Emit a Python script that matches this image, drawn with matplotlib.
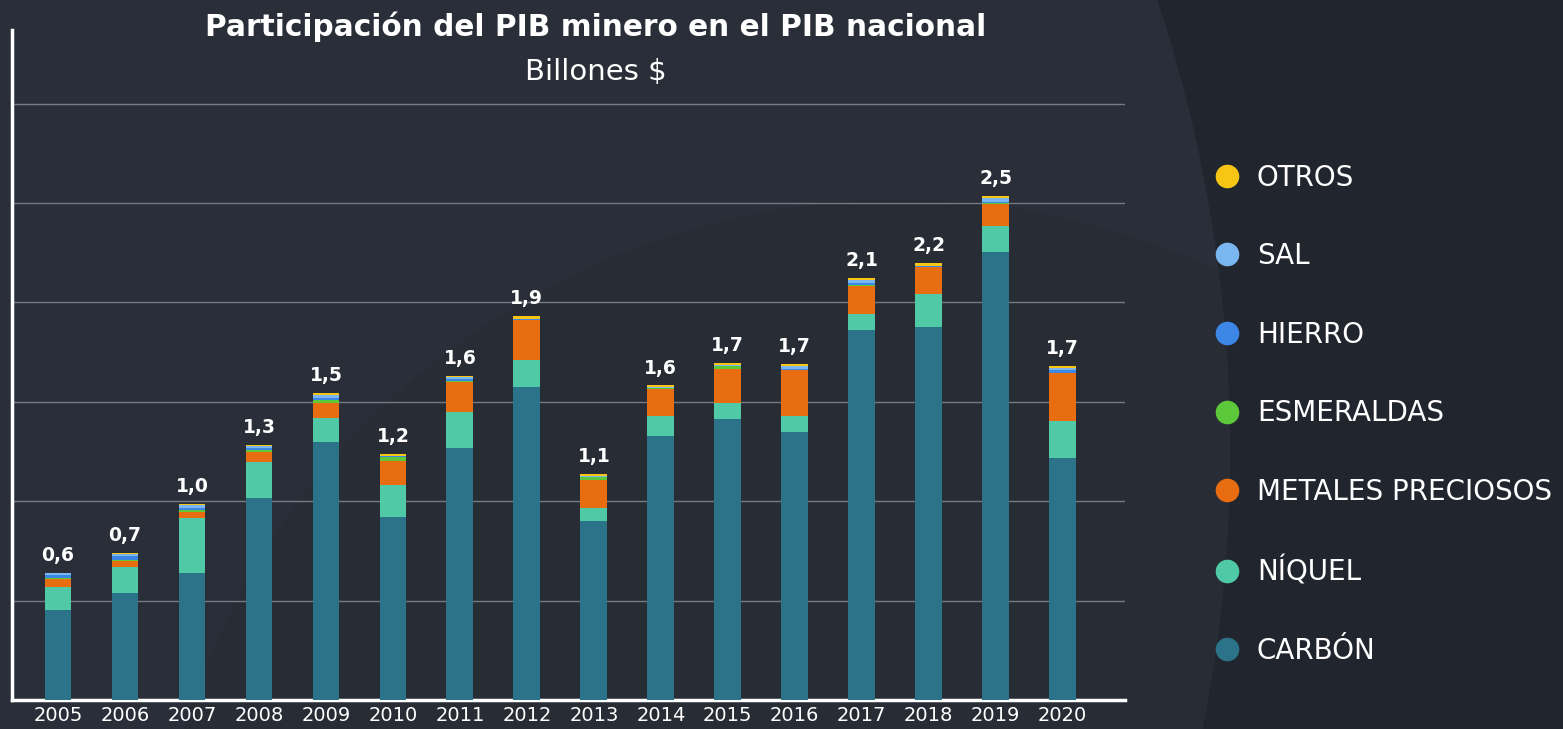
import matplotlib.pyplot as plt
from matplotlib.lines import Line2D
from matplotlib.patches import Ellipse

# Data (billones $)
years = ['2005', '2006', '2007', '2008', '2009', '2010', '2011', '2012',
         '2013', '2014', '2015', '2016', '2017', '2018', '2019', '2020']
carbon = [0.452, 0.540, 0.638, 1.015, 1.296, 0.920, 1.266, 1.573,
          0.900, 1.327, 1.412, 1.347, 1.859, 1.874, 2.251, 1.216]
niquel = [0.116, 0.130, 0.276, 0.181, 0.121, 0.161, 0.181, 0.136,
          0.065, 0.101, 0.080, 0.080, 0.085, 0.166, 0.134, 0.186]
metales = [0.040, 0.030, 0.030, 0.050, 0.075, 0.121, 0.151, 0.201,
           0.141, 0.136, 0.171, 0.231, 0.138, 0.136, 0.111, 0.241]
esmeraldas = [0.005, 0.005, 0.010, 0.010, 0.015, 0.020, 0.005, 0.003,
              0.015, 0.003, 0.015, 0.003, 0.005, 0.003, 0.003, 0.003]
hierro = [0.015, 0.020, 0.010, 0.010, 0.010, 0.003, 0.010, 0.002,
          0.002, 0.002, 0.003, 0.005, 0.010, 0.002, 0.005, 0.015]
sal = [0.010, 0.010, 0.015, 0.010, 0.015, 0.003, 0.010, 0.003,
       0.003, 0.003, 0.005, 0.015, 0.015, 0.003, 0.020, 0.008]
otros = [0.003, 0.003, 0.005, 0.005, 0.010, 0.010, 0.005, 0.012,
         0.010, 0.010, 0.010, 0.010, 0.012, 0.012, 0.012, 0.010]

names = ['CARBÓN', 'NÍQUEL', 'METALES PRECIOSOS', 'ESMERALDAS', 'HIERRO', 'SAL', 'OTROS']
series = [carbon, niquel, metales, esmeraldas, hierro, sal, otros]
colors = ['#2b7389', '#4fc9a6', '#e86c10', '#5cc83a', '#3c86e6', '#7ab6f0', '#f7c614']

bg = '#21252e'
fig = plt.figure(figsize=(15.63, 7.29), dpi=100, facecolor=bg)

# faint background arcs
bgax = fig.add_axes([0, 0, 1, 1], zorder=-5)
bgax.set_xlim(0, 1563)
bgax.set_ylim(729, 0)
bgax.axis('off')
outer = Ellipse((-200, 450), 2860, 2860, color='#292e38', lw=0)
bgax.add_patch(outer)
inner = Ellipse((900, 950), 1500, 1500, color='#272c35', lw=0)
bgax.add_patch(inner)
inner.set_clip_path(outer)

ax = fig.add_axes([12 / 1563, 29 / 729, 1113 / 1563, 670 / 729])
ax.set_facecolor('none')

x = list(range(len(years)))
bottom = [0.0] * len(years)
for name, vals, c in zip(names, series, colors):
    ax.bar(x, vals, width=0.40, bottom=bottom, color=c, zorder=3)
    bottom = [b + v for b, v in zip(bottom, vals)]

for xi, t in zip(x, bottom):
    ax.text(xi, t + 0.04, f'{t:.1f}'.replace('.', ','), ha='center', va='bottom',
            color='white', fontsize=13.5, fontweight='bold', zorder=4)

ax.set_xlim(-0.687, 15.93)
ax.set_ylim(0, 3.37)
ax.set_yticks([0.5, 1.0, 1.5, 2.0, 2.5, 3.0])
ax.yaxis.grid(True, color='#767a82', lw=1, zorder=0)
ax.tick_params(axis='y', left=False, labelleft=False)
ax.set_xticks(x)
ax.set_xticklabels(years, color='white', fontsize=14)
ax.tick_params(axis='x', length=0, pad=4)
for s in ['top', 'right']:
    ax.spines[s].set_visible(False)
for s in ['left', 'bottom']:
    ax.spines[s].set_color('white')
    ax.spines[s].set_linewidth(2.5)

fig.text(596 / 1563, 1 - 27 / 729, 'Participación del PIB minero en el PIB nacional',
         ha='center', va='center', color='white', fontsize=21.3, fontweight='bold')
fig.text(596 / 1563, 1 - 72 / 729, 'Billones $', ha='center', va='center',
         color='white', fontsize=21)

handles = [Line2D([], [], ls='none', marker='o', markersize=16, color=c)
           for c in colors[::-1]]
leg = fig.legend(handles, names[::-1], loc='upper left',
                 bbox_to_anchor=(1202 / 1563, 1 - 152.5 / 729), frameon=False,
                 fontsize=20, labelcolor='white', labelspacing=1.82,
                 handletextpad=0.58, handlelength=1.0, borderaxespad=0)

fig.savefig('out.png', dpi=100, facecolor=bg)
